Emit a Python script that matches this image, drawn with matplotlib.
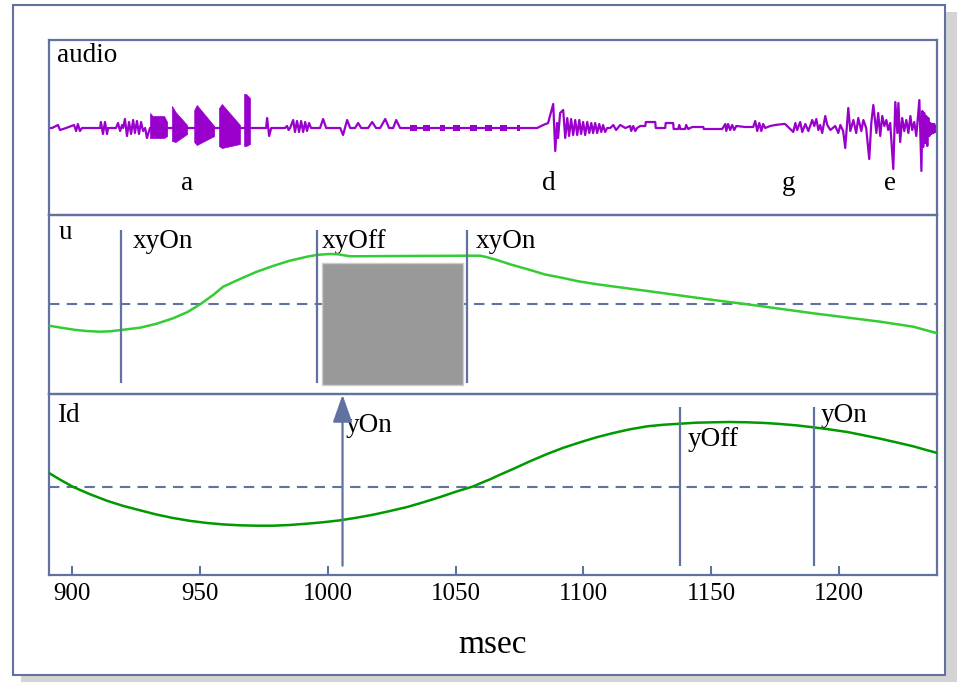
import matplotlib
matplotlib.use("Agg")
import matplotlib.pyplot as plt
from matplotlib.patches import Rectangle

plt.rcParams['font.family'] = ['Liberation Serif', 'DejaVu Serif']

# ---------------------------------------------------------------- data
# audio trace (msec, arbitrary amplitude)
audio_t = [891.0, 892.2, 894.5, 895.3, 897.7, 900.8, 901.6, 902.3, 903.1, 903.9,
           911.0, 911.3, 912.1, 912.9, 913.7, 914.1, 917.2, 918.0, 918.8, 919.6,
           920.0, 920.7, 921.5, 922.3, 923.1, 923.9, 924.6, 925.4, 926.2, 927.0,
           927.8, 928.6, 929.3, 930.5, 975.9, 976.3, 977.1, 977.9, 983.3, 984.1,
           984.7, 985.3, 986.5, 987.2, 988.0, 988.8, 989.6, 990.4, 991.2, 991.9,
           992.7, 993.5, 997.0, 998.2, 999.4, 1004.9, 1006.0, 1007.6, 1008.8, 1010.7,
           1011.9, 1013.1, 1015.8, 1017.4, 1018.9, 1020.5, 1022.5, 1024.0, 1025.6, 1026.8,
           1028.3, 1081.9, 1084.3, 1086.2, 1088.2, 1089.0, 1089.7, 1090.1, 1090.9, 1092.1,
           1092.9, 1093.7, 1094.4, 1095.2, 1096.0, 1096.8, 1097.6, 1098.4, 1099.1, 1099.9,
           1100.7, 1101.5, 1102.3, 1103.1, 1103.8, 1104.6, 1105.4, 1106.2, 1107.0, 1107.7,
           1108.5, 1109.3, 1110.5, 1111.7, 1112.8, 1114.4, 1116.4, 1118.3, 1118.7, 1119.5,
           1120.3, 1121.0, 1122.2, 1124.2, 1124.4, 1128.1, 1128.3, 1132.0, 1132.2, 1135.1,
           1135.3, 1137.1, 1137.5, 1137.9, 1139.8, 1140.2, 1141.0, 1142.6, 1146.9, 1147.1,
           1154.3, 1155.5, 1155.9, 1156.6, 1157.4, 1158.2, 1159.0, 1159.8, 1163.3, 1166.4,
           1167.2, 1168.0, 1168.8, 1169.6, 1170.3, 1171.1, 1173.1, 1175.0, 1178.2, 1178.9,
           1182.1, 1182.9, 1183.6, 1184.8, 1185.6, 1186.8, 1188.0, 1189.5, 1190.3, 1191.1,
           1191.9, 1192.6, 1193.4, 1194.6, 1195.4, 1196.6, 1198.5, 1199.7, 1200.5, 1201.6,
           1202.4, 1203.6, 1204.4, 1205.6, 1206.7, 1207.5, 1208.7, 1209.5, 1210.6, 1211.8,
           1212.6, 1213.4, 1214.6, 1215.3, 1216.1, 1216.9, 1217.7, 1218.5, 1219.2, 1220.0,
           1221.2, 1222.0, 1222.8, 1223.2, 1223.9, 1224.7, 1225.5, 1226.3, 1227.1, 1227.9,
           1228.6, 1229.4, 1230.2, 1231.4, 1232.2, 1232.6, 1232.9, 1233.3, 1233.7, 1234.1,
           1234.5, 1234.9, 1235.3, 1235.7, 1236.1, 1236.5, 1236.9, 1237.2, 1237.6, 1238.0,
           1238.4]
audio_a = [0, 0, 3, -2, 0, 3, -3, 4, -3, 0,
           0, 6, -6, 6, -6, 0, 0, 5, -3, 3,
           0, 9, -8, 6, -6, 8, -5, 7, -6, 6,
           -3, 0, -10, 0, 0, 10, -8, 0, 0, 2,
           -2, 0, 8, -4, 7, -4, 7, -4, 6, -3,
           5, 0, 0, 9, 0, 0, -7, 8, 0, 0,
           5, 0, 0, 6, 0, 0, 9, 0, 0, 8,
           0, 0, 3, 5, 24, -23, 5, -10, 15, 18,
           -10, 10, -8, 9, -7, 8, -7, 8, -6, 6,
           -7, 6, -5, 5, -5, 5, -5, 4, -4, 3,
           -4, 0, 0, 3, -2, 3, 0, 2, -3, 2,
           -3, 0, 2, 2, 6, 6, 0, 0, 5, 5,
           -1, -1, 3, -1, -1, 3, -1, 1, 1, -1,
           -1, 4, -3, 4, -2, 3, -2, 2, 1, 1,
           7, -3, 5, -3, 4, 0, 2, 3, 4, 4,
           -4, 5, -2, 6, -4, 4, -3, 8, 2, 9,
           -2, 3, -5, 12, 3, -2, 2, -5, 3, -3,
           -20, 20, -3, 8, -5, 10, -3, 8, 0, -31,
           5, 23, -5, 15, -8, 12, 2, 8, -2, 5,
           -41, 26, -5, 25, -14, 10, -3, 8, -5, 12,
           -2, 6, -8, 28, -43, 17, -19, 15, -15, 12,
           -18, 10, -8, 5, -6, 4, -5, 4, -4, 2,
           -2]

# dense voiced bursts (envelopes)
burst_t = [[930.5, 931.5, 936.0, 937.2],
           [939.1, 940.5, 945.0],
           [947.8, 948.8, 955.6],
           [957.5, 958.6, 965.7],
           [967.3, 968.1, 969.6]]
burst_top = [[15, 12, 12, 6], [22, 16, 3], [18, 23, 2], [20, 24, 3], [34, 34, 30]]
burst_bot = [[-10, -10, -10, -8], [-13, -14, -6], [-14, -17, -8], [-18, -20, -16], [-18, -18, -16]]

# small blocks on the flat stretch
block_start = [1032.2, 1037.3, 1044.0, 1049.1, 1055.7, 1061.6, 1067.4, 1074.1]
block_end = [1035.0, 1040.1, 1045.9, 1051.8, 1058.5, 1064.3, 1070.2, 1075.3]
block_amp = 3

audio_labels = ['a', 'd', 'g', 'e']
audio_label_t = [945.0, 1086.6, 1180.1, 1220.0]

# u trajectory
u_t = [891.0, 896.0, 901.0, 906.0, 911.0, 915.0, 919.2, 926.6, 933.0, 939.5,
       945.0, 950.1, 955.2, 959.1, 965.7, 972.0, 978.6, 985.0, 991.9, 996.0,
       1000.9, 1004.0, 1008.8, 1028.3, 1054.8, 1059.6, 1062.0, 1066.2, 1072.0, 1079.2,
       1085.0, 1092.1, 1098.0, 1105.4, 1125.0, 1150.8, 1164.1, 1189.9, 1216.1, 1229.0,
       1238.4]
u_v = [-21.4, -23.5, -25.5, -26.8, -27.4, -27.0, -25.7, -23.4, -19.5, -14.0,
       -8.0, 0.0, 9.3, 17.6, 25.3, 32.3, 38.3, 43.5, 47.6, 49.5,
       50.3, 50.0, 48.0, 48.3, 48.6, 48.6, 47.3, 44.3, 39.5, 34.3,
       29.8, 26.3, 23.0, 20.0, 13.3, 4.3, 0.0, -9.0, -17.4, -22.4,
       -29.0]
u_events = [919.2, 995.9, 1054.5]
u_event_labels = ['xyOn', 'xyOff', 'xyOn']
u_label_t = [923.9, 997.8, 1058.1]
u_shade = (997.7, 1053.1, -80.7, 41.6)   # t0, t1, low, high

# Id trajectory
id_t = [891.0, 895.7, 900.5, 907.0, 913.6, 920.0, 926.6, 933.0, 939.5, 946.0,
        952.8, 959.0, 965.7, 972.0, 978.6, 985.0, 991.9, 998.4, 1004.9, 1011.3,
        1017.8, 1024.4, 1031.1, 1037.5, 1044.0, 1050.5, 1056.9, 1059.6, 1063.5, 1067.4,
        1072.5, 1079.0, 1085.8, 1092.0, 1098.7, 1105.0, 1111.7, 1118.0, 1125.0, 1131.5,
        1137.9, 1144.0, 1150.8, 1157.0, 1164.1, 1170.5, 1177.0, 1183.5, 1189.9, 1196.5,
        1203.2, 1209.5, 1216.1, 1222.5, 1229.0, 1233.7, 1238.4]
id_v = [13.7, 6.5, -0.3, -7.5, -14.0, -19.2, -23.6, -27.8, -31.3, -34.1,
        -36.3, -37.7, -38.6, -39.0, -39.0, -38.3, -37.0, -35.5, -33.6, -31.0,
        -28.0, -24.3, -20.3, -15.5, -10.3, -4.7, 0.3, 3.3, 7.4, 12.0,
        17.7, 25.3, 32.7, 38.8, 44.4, 49.3, 53.7, 57.3, 60.4, 62.0,
        63.0, 64.0, 64.4, 64.7, 64.4, 63.8, 62.7, 61.3, 59.4, 57.2,
        54.7, 51.5, 48.0, 44.3, 40.4, 37.0, 33.7]
id_arrow_t = 1005.8
id_events = [1137.6, 1190.2]
id_event_labels = ['yOff', 'yOn']
id_label_t = [1140.7, 1192.6]
id_label_v = [40.4, 64.4]

xticks = [900, 950, 1000, 1050, 1100, 1150, 1200]

# ---------------------------------------------------------------- style
frame_c = '#6272a0'
audio_c = '#9900cc'
u_c = '#33cc33'
id_c = '#009900'
FS = 19.5

fig = plt.figure(figsize=(9.57, 6.82), dpi=100)

# outer frame with shadow
fig.add_artist(Rectangle((21/957, 1-682/682), 936/957, 670/682, transform=fig.transFigure,
                         facecolor='#d4d4d4', edgecolor='none', zorder=-3))
fig.add_artist(Rectangle((13/957, 1-675/682), 932/957, 670/682, transform=fig.transFigure,
                         facecolor='white', edgecolor=frame_c, lw=1.5, zorder=-2))

L, W = 49/957, 888/957
ax1 = fig.add_axes([L, 1-215/682, W, 175/682])
ax2 = fig.add_axes([L, 1-394/682, W, 179/682], sharex=ax1)
ax3 = fig.add_axes([L, 1-575/682, W, 181/682], sharex=ax1)

for ax in (ax1, ax2, ax3):
    for s in ax.spines.values():
        s.set_color(frame_c)
        s.set_linewidth(1.6)
    ax.set_yticks([])
    ax.patch.set_alpha(0)

ax1.set_xlim(891, 1238.3)
ax1.tick_params(axis='x', bottom=False, labelbottom=False)
ax2.tick_params(axis='x', bottom=False, labelbottom=False)

# audio panel
ax1.set_ylim(-87, 88)
ax1.plot(audio_t, audio_a, color=audio_c, lw=1.6)
for bt, top, bot in zip(burst_t, burst_top, burst_bot):
    ax1.fill_between(bt, bot, top, color=audio_c, lw=0.5)
for b0, b1 in zip(block_start, block_end):
    ax1.fill_between([b0, b1], [-block_amp, -block_amp], [block_amp, block_amp],
                     color=audio_c, lw=0)
for lab, t in zip(audio_labels, audio_label_t):
    ax1.text(t, -62, lab, ha='center', va='baseline', fontsize=FS)
ax1.text(894.1, 66, 'audio', ha='left', va='baseline', fontsize=FS)

# u panel
ax2.set_ylim(-89.7, 89.3)
ax2.axhline(0, color=frame_c, lw=1.5, ls=(0, (5, 3.5)))
ax2.add_patch(Rectangle((u_shade[0], u_shade[2]), u_shade[1]-u_shade[0], u_shade[3]-u_shade[2],
                        facecolor='#999999', edgecolor='#cccccc', lw=1, zorder=3))
ax2.plot(u_t, u_v, color=u_c, lw=1.8, zorder=4)
ax2.vlines(u_events, -78.7, 74.3, color=frame_c, lw=1.6, zorder=5)
for lab, t in zip(u_event_labels, u_label_t):
    ax2.text(t, 56, lab, ha='left', va='baseline', fontsize=FS)
ax2.text(894.6, 65.3, 'u', ha='left', va='baseline', fontsize=FS)

# Id panel
ax3.set_ylim(-88.3, 92.7)
ax3.axhline(0, color=frame_c, lw=1.5, ls=(0, (5, 3.5)))
ax3.plot(id_t, id_v, color=id_c, lw=1.8, zorder=4)
ax3.vlines(id_events, -79, 79.7, color=frame_c, lw=1.6, zorder=5)
ax3.annotate('', xy=(id_arrow_t, 92.0), xytext=(id_arrow_t, -79),
             arrowprops=dict(arrowstyle='-|>,head_length=0.85,head_width=0.3',
                             mutation_scale=20, color=frame_c, lw=1.6,
                             shrinkA=0, shrinkB=0), zorder=6)
ax3.text(1007.2, 54.4, 'yOn', ha='left', va='baseline', fontsize=FS)
for lab, t, v in zip(id_event_labels, id_label_t, id_label_v):
    ax3.text(t, v, lab, ha='left', va='baseline', fontsize=FS)
ax3.text(894.0, 64.4, 'Id', ha='left', va='baseline', fontsize=FS)

ax3.set_xticks(xticks)
ax3.set_xticklabels([str(x) for x in xticks])
ax3.tick_params(axis='x', direction='in', length=6.5, width=1.5, color=frame_c,
                labelsize=18, pad=5.5)
fig.text(493/957, 1-653/682, 'msec', ha='center', va='baseline', fontsize=24)

fig.savefig('out.png', dpi=100)
